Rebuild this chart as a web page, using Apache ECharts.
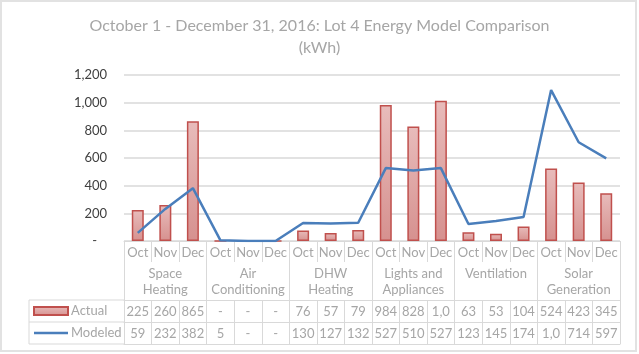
<!DOCTYPE html>
<html>
<head>
<meta charset="utf-8">
<script src="https://cdn.jsdelivr.net/npm/echarts@6/dist/echarts.min.js"></script>
<style>
  html, body { margin: 0; padding: 0; background: #fff; }
  #chart { width: 639px; height: 354px; }
</style>
</head>
<body>
<div id="chart"></div>
<script>
const months = ['Oct', 'Nov', 'Dec', 'Oct', 'Nov', 'Dec', 'Oct', 'Nov', 'Dec',
  'Oct', 'Nov', 'Dec', 'Oct', 'Nov', 'Dec', 'Oct', 'Nov', 'Dec']
const groups = ['Space\nHeating', 'Air\nConditioning', 'DHW\nHeating',
  'Lights and\nAppliances', 'Ventilation', 'Solar\nGeneration']
const actual = [225, 260, 865, 0, 0, 0, 76, 57, 79, 984, 828, 1014, 63, 53, 104, 524, 423, 345]
const modeled = [59, 232, 382, 5, 0, 0, 130, 127, 132, 527, 510, 527, 123, 145, 174, 1091, 714, 597]

const FONT = 'Lato'
const GRAY = '#a6a6a6'
const LINE = '#d9d9d9'

// excel shows "-" for zero and cuts off wide numbers in the narrow cells
const cellText = (v) => v === 0 ? '-' : v.toLocaleString('en-US').slice(0, 3)

const tableAxis = (values, offset, extra) => Object.assign({
  type: 'category',
  data: months,
  position: 'bottom',
  offset,
  axisLine: { show: true, lineStyle: { color: LINE, width: 1 } },
  axisTick: { show: false },
  axisLabel: {
    interval: 0,
    margin: 5,
    color: GRAY,
    fontSize: 13,
    fontFamily: FONT,
    formatter: (_, i) => values ? cellText(values[i]) : ''
  },
  splitLine: { show: false }
}, extra)

const option = {
  animation: false,
  title: {
    text: 'October 1 - December 31, 2016: Lot 4 Energy Model Comparison\n(kWh)',
    left: 'center',
    top: 10,
    textStyle: { color: GRAY, fontSize: 16, fontWeight: 'normal', fontFamily: FONT, lineHeight: 22 }
  },
  legend: {
    orient: 'vertical',
    left: 33,
    top: 303,
    padding: 0,
    itemWidth: 34,
    itemHeight: 8,
    itemGap: 6,
    textStyle: { color: GRAY, fontSize: 13, fontFamily: FONT, lineHeight: 16, padding: [0, 0, 0, -2] },
    data: [
      { name: 'Actual', icon: 'rect' },
      // plain stroke as the legend key, no marker dot
      { name: 'Modeled', icon: 'path://M0,0L0,0ZM0,2.8L34,2.8L34,5.2L0,5.2ZM0,8L0,8Z' }
    ]
  },
  grid: { left: 124, right: 19, top: 75, bottom: 113 },
  yAxis: {
    type: 'value',
    min: 0,
    max: 1200,
    interval: 200,
    axisLine: { show: false },
    axisTick: { show: false },
    axisLabel: {
      margin: 17,
      color: '#404040',
      fontSize: 13,
      fontFamily: FONT,
      formatter: (v) => v === 0 ? '-   ' : v.toLocaleString('en-US')
    },
    splitLine: { lineStyle: { color: LINE, width: 1.5 } }
  },
  xAxis: [
    {
      type: 'category',
      data: months,
      position: 'bottom',
      axisLine: { lineStyle: { color: LINE, width: 1 } },
      axisTick: { show: true, interval: 0, length: 21, lineStyle: { color: LINE } },
      axisLabel: { interval: 0, margin: 5, color: GRAY, fontSize: 13, fontFamily: FONT }
    },
    {
      type: 'category',
      data: groups,
      position: 'bottom',
      axisLine: { show: false },
      axisTick: { show: true, interval: 0, length: 103, lineStyle: { color: LINE } },
      axisLabel: { interval: 0, margin: 25, color: GRAY, fontSize: 13, fontFamily: FONT, lineHeight: 16 }
    },
    tableAxis(actual, 59, {
      axisTick: { show: true, interval: 0, length: 44, lineStyle: { color: LINE } }
    }),
    tableAxis(modeled, 81),
    tableAxis(null, 103)
  ],
  graphic: [
    {
      type: 'rect',
      shape: { x: 1, y: 1, width: 635, height: 350 },
      style: { fill: 'none', stroke: '#e2e2e2', lineWidth: 2 }
    },
    { type: 'line', shape: { x1: 29, y1: 300, x2: 124, y2: 300 }, style: { stroke: LINE, lineWidth: 1 } },
    { type: 'line', shape: { x1: 29, y1: 322, x2: 124, y2: 322 }, style: { stroke: LINE, lineWidth: 1 } },
    { type: 'line', shape: { x1: 29, y1: 344, x2: 124, y2: 344 }, style: { stroke: LINE, lineWidth: 1 } },
    { type: 'line', shape: { x1: 29, y1: 300, x2: 29, y2: 344 }, style: { stroke: LINE, lineWidth: 1 } }
  ],
  series: [
    {
      name: 'Actual',
      type: 'bar',
      data: actual,
      barWidth: 12,
      itemStyle: {
        color: {
          type: 'linear', x: 0, y: 0, x2: 0, y2: 1,
          colorStops: [{ offset: 0, color: '#e8bcbb' }, { offset: 1, color: '#d6918f' }]
        },
        borderColor: '#c0504d',
        borderWidth: 1.5
      }
    },
    {
      name: 'Modeled',
      type: 'line',
      data: modeled,
      symbol: 'none',
      lineStyle: { color: '#4a7ebb', width: 2.5 },
      itemStyle: { color: '#4a7ebb' }
    }
  ]
}

const chart = echarts.init(document.getElementById('chart'))
chart.setOption(option)
</script>
</body>
</html>
